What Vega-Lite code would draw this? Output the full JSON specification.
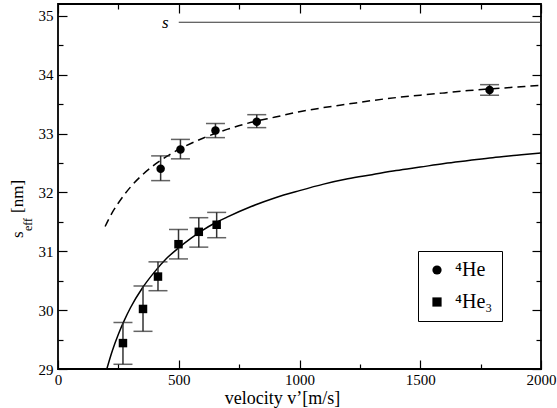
{
  "$schema": "https://vega.github.io/schema/vega-lite/v6.json",
  "width": 483,
  "height": 365,
  "autosize": {"type": "none"},
  "padding": {"left": 58, "top": 4, "right": 16, "bottom": 39},
  "background": "white",
  "config": {
    "font": "Liberation Serif",
    "view": {"stroke": "black", "strokeWidth": 1.8},
    "axis": {
      "grid": false,
      "labelFont": "Liberation Serif",
      "labelFontSize": 15,
      "labelColor": "black",
      "labelFlush": false,
      "labelOverlap": false,
      "tickColor": "black",
      "tickWidth": 1.2,
      "domain": false,
      "titleFont": "Liberation Serif",
      "titleFontWeight": "normal",
      "titleColor": "black"
    }
  },
  "datasets": {
    "points": [
      {"v": 425, "s": 32.40, "lo": 32.20, "hi": 32.62, "series": "⁴He"},
      {"v": 507, "s": 32.73, "lo": 32.57, "hi": 32.90, "series": "⁴He"},
      {"v": 652, "s": 33.05, "lo": 32.93, "hi": 33.17, "series": "⁴He"},
      {"v": 823, "s": 33.20, "lo": 33.10, "hi": 33.32, "series": "⁴He"},
      {"v": 1787, "s": 33.74, "lo": 33.65, "hi": 33.83, "series": "⁴He"},
      {"v": 269, "s": 29.44, "lo": 29.08, "hi": 29.79, "series": "⁴He₃"},
      {"v": 352, "s": 30.02, "lo": 29.64, "hi": 30.41, "series": "⁴He₃"},
      {"v": 414, "s": 30.57, "lo": 30.33, "hi": 30.82, "series": "⁴He₃"},
      {"v": 499, "s": 31.12, "lo": 30.87, "hi": 31.37, "series": "⁴He₃"},
      {"v": 583, "s": 31.33, "lo": 31.07, "hi": 31.57, "series": "⁴He₃"},
      {"v": 657, "s": 31.45, "lo": 31.23, "hi": 31.66, "series": "⁴He₃"}
    ],
    "curveHe": [
      {"v": 195, "s": 31.42}, {"v": 225, "s": 31.66}, {"v": 250, "s": 31.82},
      {"v": 300, "s": 32.09}, {"v": 350, "s": 32.30}, {"v": 400, "s": 32.47},
      {"v": 450, "s": 32.61}, {"v": 500, "s": 32.73}, {"v": 550, "s": 32.83},
      {"v": 600, "s": 32.92}, {"v": 650, "s": 33.00}, {"v": 700, "s": 33.07},
      {"v": 800, "s": 33.19}, {"v": 900, "s": 33.28}, {"v": 1000, "s": 33.37},
      {"v": 1100, "s": 33.44}, {"v": 1200, "s": 33.50}, {"v": 1300, "s": 33.56},
      {"v": 1400, "s": 33.61}, {"v": 1500, "s": 33.65}, {"v": 1600, "s": 33.69},
      {"v": 1700, "s": 33.73}, {"v": 1800, "s": 33.76}, {"v": 1900, "s": 33.79},
      {"v": 2000, "s": 33.82}
    ],
    "curveHe3": [
      {"v": 200, "s": 28.97}, {"v": 225, "s": 29.31}, {"v": 250, "s": 29.59},
      {"v": 275, "s": 29.83}, {"v": 300, "s": 30.04}, {"v": 350, "s": 30.38},
      {"v": 400, "s": 30.65}, {"v": 450, "s": 30.88}, {"v": 500, "s": 31.06},
      {"v": 550, "s": 31.22}, {"v": 600, "s": 31.36}, {"v": 650, "s": 31.48},
      {"v": 700, "s": 31.58}, {"v": 800, "s": 31.76}, {"v": 900, "s": 31.91},
      {"v": 1000, "s": 32.03}, {"v": 1100, "s": 32.14}, {"v": 1200, "s": 32.23},
      {"v": 1300, "s": 32.30}, {"v": 1400, "s": 32.37}, {"v": 1500, "s": 32.43},
      {"v": 1600, "s": 32.49}, {"v": 1700, "s": 32.54}, {"v": 1800, "s": 32.59},
      {"v": 1900, "s": 32.63}, {"v": 2000, "s": 32.67}
    ],
    "sline": [{"v": 500, "v2": 2000, "s": 34.89}],
    "slabel": [{"v": 444, "s": 34.79, "t": "s"}],
    "ytitleMain": [{"v": -145, "s": 31.225, "t": "s"}, {"v": -145, "s": 31.65, "t": "[nm]"}],
    "ytitleSub": [{"v": -109, "s": 31.344, "t": "eff"}]
  },
  "layer": [
    {
      "data": {"name": "curveHe"},
      "mark": {"type": "line", "color": "black", "strokeWidth": 1.5, "strokeDash": [8, 5], "clip": true, "interpolate": "monotone"},
      "encoding": {
        "x": {"field": "v", "type": "quantitative", "scale": {"domain": [0, 2000], "nice": false, "zero": false},
          "axis": {"orient": "bottom", "values": [0, 500, 1000, 1500, 2000], "format": "d", "ticks": false, "labelPadding": 3,
            "title": "velocity v’[m/s]", "titleFontSize": 18, "titleX": 224, "titleY": 34.5, "titleBaseline": "alphabetic", "titleAlign": "center"}},
        "y": {"field": "s", "type": "quantitative", "scale": {"domain": [29, 35.2], "nice": false, "zero": false},
          "axis": {"orient": "left", "values": [29, 30, 31, 32, 33, 34, 35], "format": "d", "ticks": false, "labelPadding": 5, "title": null}}
      }
    },
    {
      "data": {"name": "curveHe3"},
      "mark": {"type": "line", "color": "black", "strokeWidth": 1.5, "clip": true, "interpolate": "monotone"},
      "encoding": {
        "x": {"field": "v", "type": "quantitative",
          "axis": {"orient": "bottom", "values": [0, 500, 1000, 1500, 2000], "labels": false, "tickSize": -9, "title": null}},
        "y": {"field": "s", "type": "quantitative",
          "axis": {"orient": "left", "values": [29, 30, 31, 32, 33, 34, 35], "labels": false, "tickSize": -9, "title": null}}
      }
    },
    {
      "data": {"name": "points"},
      "mark": {"type": "rule", "color": "#333333", "strokeWidth": 1.5},
      "encoding": {
        "x": {"field": "v", "type": "quantitative",
          "axis": {"orient": "bottom", "values": [250, 750, 1250, 1750], "labels": false, "tickSize": -5, "title": null}},
        "y": {"field": "lo", "type": "quantitative",
          "axis": {"orient": "left", "values": [29.5, 30.5, 31.5, 32.5, 33.5, 34.5], "labels": false, "tickSize": -5, "title": null}},
        "y2": {"field": "hi"}
      }
    },
    {
      "data": {"name": "points"},
      "mark": {"type": "tick", "orient": "horizontal", "color": "#222222", "size": 19, "thickness": 1.5},
      "encoding": {
        "x": {"field": "v", "type": "quantitative",
          "axis": {"orient": "top", "values": [0, 500, 1000, 1500, 2000], "labels": false, "tickSize": -9, "title": null}},
        "y": {"field": "lo", "type": "quantitative",
          "axis": {"orient": "right", "values": [29, 30, 31, 32, 33, 34, 35], "labels": false, "tickSize": -9, "title": null}}
      }
    },
    {
      "data": {"name": "points"},
      "mark": {"type": "tick", "orient": "horizontal", "color": "#222222", "size": 19, "thickness": 1.5},
      "encoding": {
        "x": {"field": "v", "type": "quantitative",
          "axis": {"orient": "top", "values": [250, 750, 1250, 1750], "labels": false, "tickSize": -5, "title": null}},
        "y": {"field": "hi", "type": "quantitative",
          "axis": {"orient": "right", "values": [29.5, 30.5, 31.5, 32.5, 33.5, 34.5], "labels": false, "tickSize": -5, "title": null}}
      }
    },
    {
      "data": {"name": "points"},
      "mark": {"type": "point", "filled": true, "color": "black", "opacity": 1, "size": 72},
      "encoding": {
        "x": {"field": "v", "type": "quantitative", "axis": null},
        "y": {"field": "s", "type": "quantitative", "axis": null},
        "shape": {"field": "series", "type": "nominal",
          "scale": {"domain": ["⁴He", "⁴He₃"], "range": ["circle", "square"]},
          "legend": {"orient": "none", "legendX": 360, "legendY": 247, "title": null,
            "strokeColor": "black", "fillColor": "white", "padding": 9, "rowPadding": 12,
            "labelFont": "Liberation Serif", "labelFontSize": 20, "labelColor": "black", "labelOffset": 8,
            "symbolSize": 85, "symbolFillColor": "black", "symbolStrokeWidth": 0}}
      }
    },
    {
      "data": {"name": "sline"},
      "mark": {"type": "rule", "color": "#333333", "strokeWidth": 1.2},
      "encoding": {
        "x": {"field": "v", "type": "quantitative", "axis": null},
        "x2": {"field": "v2"},
        "y": {"field": "s", "type": "quantitative", "axis": null}
      }
    },
    {
      "data": {"name": "slabel"},
      "mark": {"type": "text", "font": "Liberation Serif", "fontStyle": "italic", "fontSize": 17, "align": "center", "baseline": "alphabetic", "color": "black"},
      "encoding": {
        "x": {"field": "v", "type": "quantitative", "axis": null},
        "y": {"field": "s", "type": "quantitative", "axis": null},
        "text": {"field": "t"}
      }
    },
    {
      "data": {"name": "ytitleMain"},
      "mark": {"type": "text", "font": "Liberation Serif", "fontSize": 17, "angle": 270, "align": "left", "baseline": "alphabetic", "color": "black"},
      "encoding": {
        "x": {"field": "v", "type": "quantitative", "axis": null},
        "y": {"field": "s", "type": "quantitative", "axis": null},
        "text": {"field": "t"}
      }
    },
    {
      "data": {"name": "ytitleSub"},
      "mark": {"type": "text", "font": "Liberation Serif", "fontSize": 12, "angle": 270, "align": "left", "baseline": "alphabetic", "color": "black"},
      "encoding": {
        "x": {"field": "v", "type": "quantitative", "axis": null},
        "y": {"field": "s", "type": "quantitative", "axis": null},
        "text": {"field": "t"}
      }
    }
  ],
  "resolve": {"scale": {"x": "shared", "y": "shared"}, "axis": {"x": "independent", "y": "independent"}}
}
